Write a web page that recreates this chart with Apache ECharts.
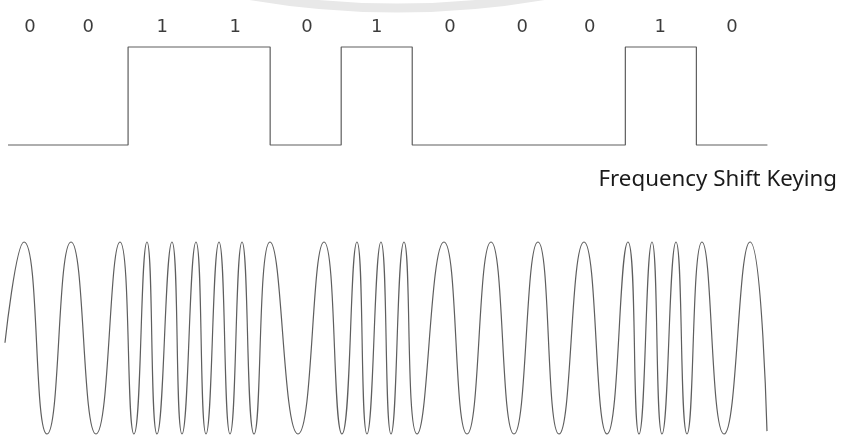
<!DOCTYPE html>
<html>
<head>
<meta charset="utf-8">
<script src="https://cdn.jsdelivr.net/npm/echarts@6/dist/echarts.min.js"></script>
<style>
html,body{margin:0;padding:0;background:#fff;}
#c{width:843px;height:438px;}
</style>
</head>
<body>
<div id="c"></div>
<script>
// Bit sequence and timing (time unit = one bit period)
const bits = [0, 0, 1, 1, 0, 1, 0, 0, 0, 1, 0];
const bitStart = [0.31, 1, 2, 3, 4, 5, 6, 7, 8, 9, 10];
const signalEnd = 11;
const labelTimes = [0.62, 1.44, 2.48, 3.51, 4.52, 5.50, 6.53, 7.55, 8.50, 9.49, 10.50];

// FSK waveform turning points (time, amplitude)
const fskTimes = [0.267, 0.535, 0.859, 1.197, 1.548, 1.886, 2.083, 2.266, 2.407, 2.618, 2.759, 2.956, 3.097, 3.280, 3.435, 3.604, 3.773, 3.998, 4.392, 4.758, 5.011, 5.222, 5.363, 5.560, 5.701, 5.884, 6.067, 6.447, 6.771, 7.109, 7.432, 7.770, 8.066, 8.418, 8.742, 9.037, 9.192, 9.375, 9.516, 9.713, 9.868, 10.079, 10.389, 10.755, 10.994];
const fskValues = [-0.05, 1, -1, 1, -1, 1, -1, 1, -1, 1, -1, 1, -1, 1, -1, 1, -1, 1, -1, 1, -1, 1, -1, 1, -1, 1, -1, 1, -1, 1, -1, 1, -1, 1, -1, 1, -1, 1, -1, 1, -1, 1, -1, 1, -0.97];

const titleText = 'Frequency Shift Keying';

const squareData = bits.map((b, i) => [bitStart[i], b]);
squareData.push([signalEnd, bits[bits.length - 1]]);
const labelData = labelTimes.map((t, i) => ({ value: [t, 1], bit: bits[i] }));
const fskData = fskTimes.map((t, i) => [t, fskValues[i]]);

const chart = echarts.init(document.getElementById('c'), null, { renderer: 'canvas' });
const lineColor = '#5e5e5e';
const xMin = 0.197, xMax = 12.064;

chart.setOption({
  backgroundColor: '#ffffff',
  animation: false,
  title: {
    text: titleText,
    right: 6,
    top: 169,
    padding: 0,
    textStyle: { fontFamily: 'Noto Sans', fontSize: 22.3, fontWeight: 'normal', color: '#1a1a1a' }
  },
  graphic: [{
    type: 'arc',
    silent: true,
    z: -1,
    shape: { cx: 397, cy: -866, r: 874, startAngle: Math.PI / 2 - 0.18, endAngle: Math.PI / 2 + 0.18 },
    style: { stroke: '#e8e8e8', lineWidth: 9, fill: null }
  }],
  grid: [
    { left: 0, right: 0, top: 47, height: 98 },
    { left: 0, right: 0, top: 242, height: 192 }
  ],
  xAxis: [
    { type: 'value', gridIndex: 0, min: xMin, max: xMax, show: false },
    { type: 'value', gridIndex: 1, min: xMin, max: xMax, show: false }
  ],
  yAxis: [
    { type: 'value', gridIndex: 0, min: 0, max: 1, show: false },
    { type: 'value', gridIndex: 1, min: -1, max: 1, show: false }
  ],
  series: [
    {
      type: 'line', xAxisIndex: 0, yAxisIndex: 0, data: squareData, step: 'end',
      showSymbol: false, clip: false,
      lineStyle: { color: lineColor, width: 1.2 }
    },
    {
      type: 'scatter', xAxisIndex: 0, yAxisIndex: 0, data: labelData,
      symbolSize: 1, itemStyle: { color: 'rgba(0,0,0,0)' }, clip: false,
      label: {
        show: true, position: 'top', distance: 10,
        formatter: p => String(p.data.bit),
        fontFamily: 'DejaVu Sans', fontSize: 18, color: '#0a0a0a'
      }
    },
    {
      type: 'line', xAxisIndex: 1, yAxisIndex: 1, data: fskData, smooth: 0.55,
      showSymbol: false, clip: false,
      lineStyle: { color: lineColor, width: 1.2 }
    }
  ]
});
</script>
</body>
</html>
